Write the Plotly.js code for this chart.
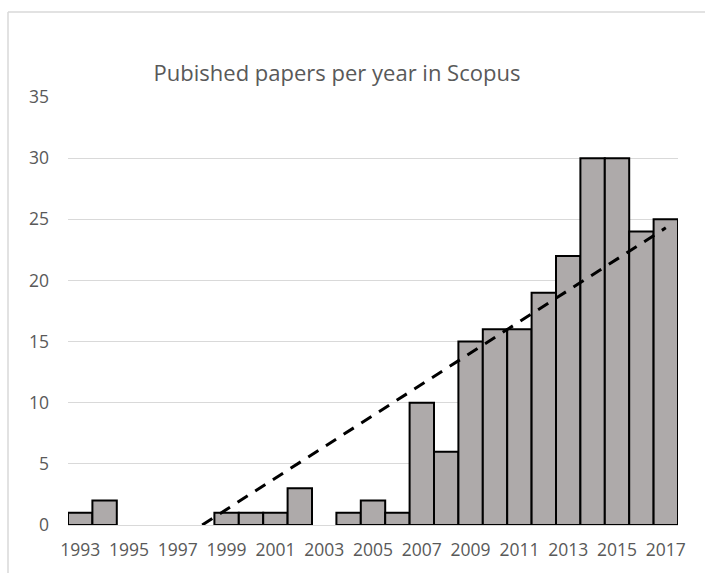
<!DOCTYPE html>
<html>
<head>
<meta charset="utf-8">
<script src="https://cdn.plot.ly/plotly-3.0.1.min.js"></script>
<style>html,body{margin:0;padding:0;background:#fff;}#chart{width:705px;height:573px;}</style>
</head>
<body>
<div id="chart"></div>
<script>
const years = [1993,1994,1995,1996,1997,1998,1999,2000,2001,2002,2003,2004,2005,2006,2007,2008,2009,2010,2011,2012,2013,2014,2015,2016,2017];
const papers = [1,2,0,0,0,0,1,1,1,3,0,1,2,1,10,6,15,16,16,19,22,30,30,24,25];
const trendYears = [1998, 2017];
const trendValues = [0, 24.3];
const tickYears = [1993,1995,1997,1999,2001,2003,2005,2007,2009,2011,2013,2015,2017];
const yTicks = [0,5,10,15,20,25,30,35];
const titleText = 'Pubished papers per year in Scopus';

const barY = papers.map(v => v === 0 ? null : v);

const data = [
  {
    type: 'bar', x: years, y: barY, width: 1,
    marker: {color: '#AEAAAA', line: {color: '#000000', width: 2}},
    hoverinfo: 'x+y', showlegend: false
  },
  {
    type: 'scatter', mode: 'lines', x: trendYears, y: trendValues,
    line: {color: '#000000', width: 3, dash: '12px,9px'},
    showlegend: false
  }
];

const font = "'Open Sans', 'Liberation Sans', sans-serif";
const layout = {
  width: 705, height: 573,
  margin: {l: 68, r: 27, t: 97, b: 48},
  paper_bgcolor: '#ffffff', plot_bgcolor: '#ffffff',
  font: {family: font, color: '#595959', size: 17},
  title: {text: titleText, font: {family: font, size: 22, color: '#595959'}, x: 0.478, xanchor: 'center', y: 1 - 73/573, yanchor: 'middle'},
  xaxis: {
    range: [1992.5, 2017.5], tickvals: tickYears, ticktext: tickYears.map(String),
    showgrid: false, zeroline: false, showline: true, linecolor: '#D9D9D9', linewidth: 1,
    ticks: '', ticklabelstandoff: 9, tickfont: {size: 17.5, color: '#595959'}, fixedrange: true
  },
  yaxis: {
    range: [0, 35], tickvals: yTicks, showgrid: true, gridcolor: '#D9D9D9', gridwidth: 1,
    zeroline: false, showline: false, ticks: '', ticklen: 0, ticklabelstandoff: 18,
    tickfont: {size: 17.5, color: '#595959'}, fixedrange: true
  },
  bargap: 0,
  shapes: [
    {type: 'line', xref: 'paper', yref: 'paper', x0: (8-68)/610, x1: (8-68)/610, y0: (525-12)/428, y1: -0.3, line: {color: '#D9D9D9', width: 1.5}},
    {type: 'line', xref: 'paper', yref: 'paper', x0: (8-68)/610, x1: 1.2, y0: (525-12)/428, y1: (525-12)/428, line: {color: '#D9D9D9', width: 1.5}}
  ]
};

Plotly.newPlot('chart', data, layout, {displayModeBar: false, staticPlot: true});
</script>
</body>
</html>
